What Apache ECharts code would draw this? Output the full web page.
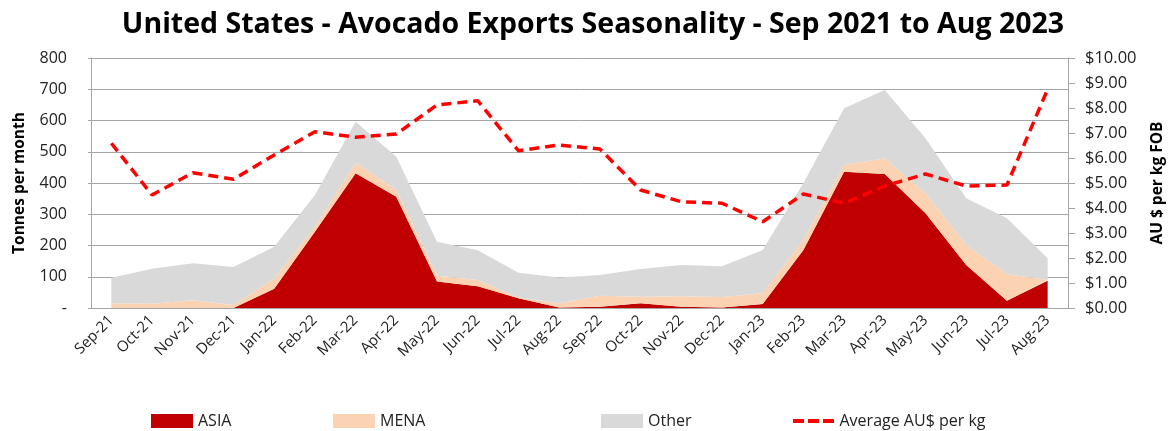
<!DOCTYPE html>
<html>
<head>
<meta charset="utf-8">
<script src="https://cdn.jsdelivr.net/npm/echarts@6/dist/echarts.min.js"></script>
<style>
  html, body { margin: 0; padding: 0; background: #fff; }
  #chart { width: 1169px; height: 431px; }
</style>
</head>
<body>
<div id="chart"></div>
<script>
var months = ["Sep-21", "Oct-21", "Nov-21", "Dec-21", "Jan-22", "Feb-22", "Mar-22", "Apr-22",
  "May-22", "Jun-22", "Jul-22", "Aug-22", "Sep-22", "Oct-22", "Nov-22", "Dec-22",
  "Jan-23", "Feb-23", "Mar-23", "Apr-23", "May-23", "Jun-23", "Jul-23", "Aug-23"];
var asia = [0, 0, 0, 0, 62, 244, 431, 356, 85, 70, 31, 2, 4, 15, 4, 2, 13, 186, 436, 429, 303, 138, 23, 87];
var mena = [15, 14, 25, 10, 32, 16, 34, 22, 18, 20, 3, 13, 35, 21, 34, 33, 34, 32, 22, 50, 64, 64, 86, 3];
var other = [82, 112, 118, 121, 102, 102, 131, 106, 109, 95, 79, 83, 67, 89, 100, 99, 139, 182, 181, 219, 176, 149, 178, 69];
var avgPrice = [6.59, 4.52, 5.41, 5.15, 6.12, 7.05, 6.83, 6.96, 8.12, 8.29, 6.29, 6.52, 6.36, 4.72, 4.25, 4.19, 3.45, 4.56, 4.19, 4.88, 5.36, 4.88, 4.92, 8.75];

var font = "Open Sans";
var chart = echarts.init(document.getElementById("chart"));

function areaSeries(name, data, color) {
  return {
    name: name,
    type: "line",
    stack: "total",
    data: data,
    symbol: "none",
    lineStyle: { width: 0 },
    itemStyle: { color: color },
    areaStyle: { color: color, opacity: 1 },
    yAxisIndex: 0
  };
}

var legendText = { fontFamily: font, fontSize: 16, color: "#222" };
// three short red dashes for the price legend
var dashIcon = "path://M0,0h11v4h-11z M15,0h11v4h-11z M30,0h11v4h-11z";

var option = {
  animation: false,
  title: {
    text: "United States - Avocado Exports Seasonality - Sep 2021 to Aug 2023",
    left: 588,
    textAlign: "center",
    top: 5,
    textStyle: { fontFamily: font, fontWeight: "bold", fontSize: 28.5, color: "#000" }
  },
  grid: { left: 91, right: 101, top: 58, bottom: 123, outerBoundsMode: "none", containLabel: false },
  legend: [
    { data: ["ASIA"], left: 146, top: 408, icon: "rect", itemWidth: 42, itemHeight: 14, textStyle: legendText },
    { data: ["MENA"], left: 328, top: 408, icon: "rect", itemWidth: 42, itemHeight: 14, textStyle: legendText },
    { data: ["Other"], left: 596, top: 408, icon: "rect", itemWidth: 42, itemHeight: 14, textStyle: legendText },
    { data: [{ name: "Average AU$ per kg", icon: dashIcon, itemStyle: { color: "#FF0000" } }], left: 788, top: 408, itemWidth: 42, itemHeight: 4, textStyle: legendText }
  ],
  xAxis: {
    type: "category",
    data: months,
    boundaryGap: true,
    axisLine: { lineStyle: { color: "#A6A6A6" } },
    axisTick: { show: false },
    axisLabel: { rotate: 45, interval: 0, fontFamily: font, fontSize: 15, color: "#222", margin: 10 }
  },
  yAxis: [
    {
      type: "value",
      min: 0, max: 800, interval: 100,
      name: "Tonnes per month",
      nameLocation: "middle",
      nameGap: 63,
      nameTextStyle: { fontFamily: font, fontWeight: "bold", fontSize: 15.5, color: "#000" },
      axisLine: { show: true, lineStyle: { color: "#A6A6A6" } },
      axisTick: { show: true, length: 3, lineStyle: { color: "#A6A6A6" } },
      splitLine: { lineStyle: { color: "#A6A6A6", width: 1 } },
      axisLabel: {
        fontFamily: font, fontSize: 16, color: "#222", margin: 24,
        formatter: function (v) { return v === 0 ? "-" : String(v); }
      }
    },
    {
      type: "value",
      min: 0, max: 10, interval: 1,
      position: "right",
      name: "AU $ per kg FOB",
      nameLocation: "middle",
      nameGap: 82,
      nameRotate: 90,
      nameTextStyle: { fontFamily: font, fontWeight: "bold", fontSize: 15.5, color: "#000" },
      axisLine: { show: true, lineStyle: { color: "#A6A6A6" } },
      axisTick: { show: true, length: 7, lineStyle: { color: "#A6A6A6" } },
      splitLine: { show: false },
      axisLabel: {
        fontFamily: font, fontSize: 16.5, color: "#222", margin: 17,
        formatter: function (v) { return "$" + v.toFixed(2); }
      }
    }
  ],
  series: [
    areaSeries("ASIA", asia, "#C00000"),
    areaSeries("MENA", mena, "#FBD3B2"),
    areaSeries("Other", other, "#D9D9D9"),
    {
      name: "Average AU$ per kg",
      type: "line",
      yAxisIndex: 1,
      data: avgPrice,
      symbol: "none",
      itemStyle: { color: "#FF0000" },
      lineStyle: { color: "#FF0000", width: 3.5, type: [10, 6] },
      z: 5
    }
  ]
};
chart.setOption(option);
</script>
</body>
</html>
